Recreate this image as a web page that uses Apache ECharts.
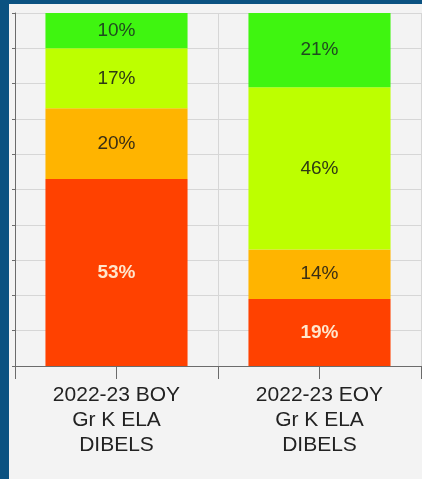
<!DOCTYPE html>
<html>
<head>
<meta charset="utf-8">
<script src="https://cdn.jsdelivr.net/npm/echarts@6/dist/echarts.min.js"></script>
<style>
    html, body { margin: 0; padding: 0; background: #0b5281; }
    #chart { position: absolute; left: 9px; top: 4px; width: 413px; height: 475px; background: #f3f3f3; }
</style>
</head>
<body>
<div id="chart"></div>
<script>
    var categories = ['2022-23 BOY\nGr K ELA\nDIBELS', '2022-23 EOY\nGr K ELA\nDIBELS'];
    // stacked from bottom to top
    var redData = [53, 19];
    var orangeData = [20, 14];
    var yellowData = [17, 46];
    var greenData = [10, 21];

    var chart = echarts.init(document.getElementById('chart'));

    function seg(name, data, color, textColor, bold) {
        return {
            name: name,
            type: 'bar',
            stack: 'total',
            xAxisIndex: 0,
            barWidth: '70%',
            itemStyle: { color: color },
            label: {
                show: true,
                position: 'inside',
                formatter: '{c}%',
                color: textColor,
                fontSize: 19,
                fontFamily: 'Liberation Sans, Arial',
                fontWeight: bold ? 'bold' : 'normal'
            },
            data: data
        };
    }

    var option = {
        backgroundColor: '#f3f3f3',
        animation: false,
        grid: {
            left: 6,
            right: 1,
            top: 9,
            bottom: 113
        },
        xAxis: [
            {
                type: 'category',
                data: categories,
                axisLine: { lineStyle: { color: '#6b6b6b', width: 1 } },
                axisTick: { show: true, alignWithLabel: true, length: 13, lineStyle: { color: '#6b6b6b' } },
                axisLabel: {
                    color: '#222222',
                    fontSize: 21,
                    lineHeight: 25,
                    margin: 17,
                    fontFamily: 'Liberation Sans, Arial'
                },
                splitLine: { show: false }
            },
            {
                type: 'category',
                data: categories,
                position: 'bottom',
                axisLine: { show: true, lineStyle: { color: '#6b6b6b' } },
                axisTick: { show: true, length: 13, lineStyle: { color: '#6b6b6b' } },
                axisLabel: { show: false },
                splitLine: { show: true, lineStyle: { color: '#d6d6d6' } }
            }
        ],
        yAxis: {
            type: 'value',
            min: 0,
            max: 100,
            interval: 10,
            axisLine: { show: true, lineStyle: { color: '#6b6b6b' } },
            axisTick: { show: true, length: 3, lineStyle: { color: '#6b6b6b' } },
            axisLabel: { show: false },
            splitLine: { lineStyle: { color: '#d6d6d6' } }
        },
        series: [
            seg('Red', redData, '#ff4100', '#ffe6cc', true),
            seg('Orange', orangeData, '#ffb400', '#3a2e14', false),
            seg('Yellow', yellowData, '#bdff00', '#2e3a14', false),
            seg('Green', greenData, '#3ff510', '#1f4a1f', false)
        ]
    };
    chart.setOption(option);
</script>
</body>
</html>
